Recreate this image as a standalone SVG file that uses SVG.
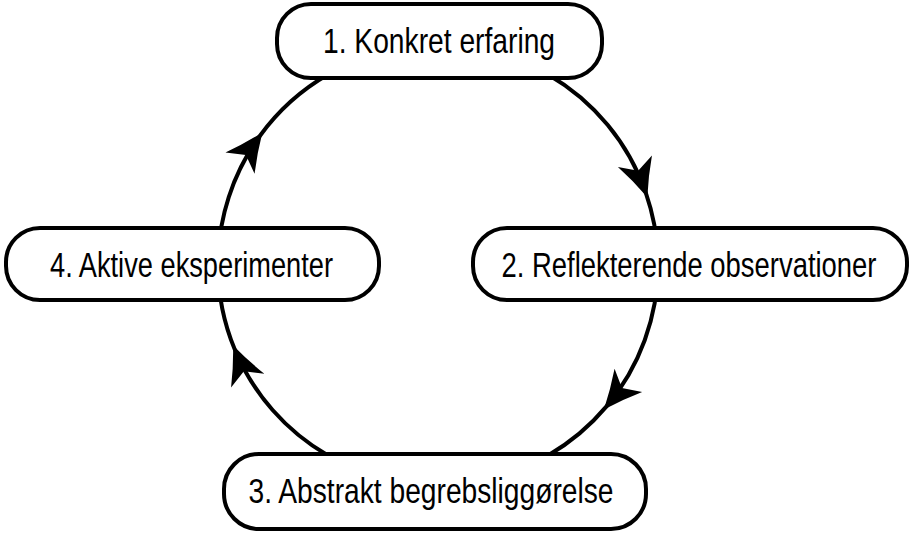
<svg xmlns="http://www.w3.org/2000/svg" width="912" height="534" viewBox="0 0 912 534">
<style>
.conn{fill:none;stroke:#000;stroke-width:4;marker-mid:url(#arr)}
.box{fill:#fff;stroke:#000;stroke-width:4}
.lbl{font-family:"Liberation Sans",Arial,sans-serif;font-size:35px;fill:#000;text-anchor:middle}
</style>
<defs>
<marker id="arr" markerUnits="userSpaceOnUse" orient="auto" viewBox="-38 -22 44 44" markerWidth="44" markerHeight="44" refX="0" refY="0">
<path d="M4,0 Q-16,-8 -34,-18 L-24,0 L-34,18 Q-16,8 4,0 Z" fill="#000"/>
</marker>
</defs>
<rect width="912" height="534" fill="#fff"/>
<g id="connectors">
<path class="conn" d="M548,74.5 A220,220 0 0 1 646,193.4 A220,220 0 0 1 658,265"/>
<path class="conn" d="M658,265 A220,220 0 0 1 606.5,406.4 A220,220 0 0 1 548,455.5"/>
<path class="conn" d="M328,455.5 A220,220 0 0 1 234.7,349.2 A220,220 0 0 1 218,265"/>
<path class="conn" d="M218,265 A220,220 0 0 1 260,135.7 A220,220 0 0 1 328,74.5"/>
</g>
<g id="node1">
<rect class="box" x="277" y="4" width="325" height="74" rx="34"/>
<text class="lbl" transform="translate(439,53) scale(0.806,1)" textLength="287.9" lengthAdjust="spacingAndGlyphs">1. Konkret erfaring</text>
</g>
<g id="node2">
<rect class="box" x="473" y="228" width="434" height="72" rx="34"/>
<text class="lbl" transform="translate(689,277) scale(0.7835,1)" textLength="478.6" lengthAdjust="spacingAndGlyphs">2. Reflekterende observationer</text>
</g>
<g id="node3">
<rect class="box" x="224" y="454" width="422" height="75" rx="35"/>
<text class="lbl" transform="translate(431,503) scale(0.802,1)" textLength="455.2" lengthAdjust="spacingAndGlyphs">3. Abstrakt begrebsliggørelse</text>
</g>
<g id="node4">
<rect class="box" x="6" y="228" width="373" height="72" rx="34"/>
<text class="lbl" transform="translate(191.5,277) scale(0.774,1)" textLength="365.7" lengthAdjust="spacingAndGlyphs">4. Aktive eksperimenter</text>
</g>
</svg>
